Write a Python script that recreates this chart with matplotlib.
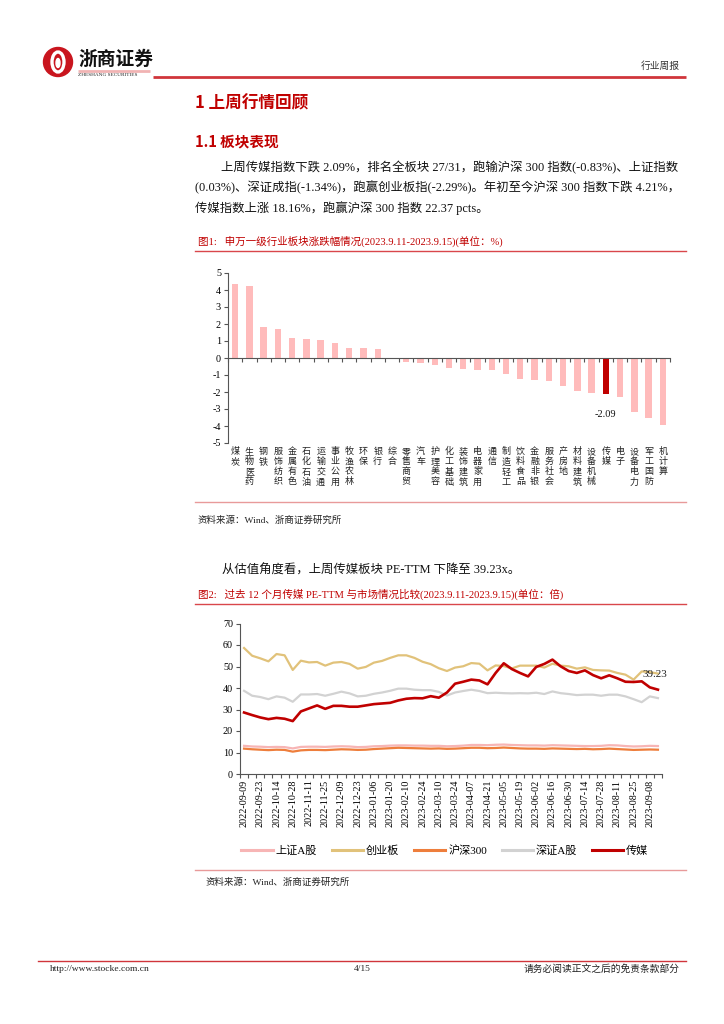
import numpy as np
import matplotlib
matplotlib.use('Agg')
import matplotlib.pyplot as plt
from matplotlib import transforms, patches
from matplotlib.lines import Line2D

SERIF = ['Liberation Serif', 'Noto Sans CJK SC']
CJK = ['Noto Sans CJK SC', 'Liberation Serif']
plt.rcParams['font.family'] = SERIF

# ---------------- data ----------------
industries = ['煤炭', '医药生物', '钢铁', '纺织服饰', '有色金属', '石油石化', '交通运输', '公用事业',
              '农林牧渔', '环保', '银行', '综合', '商贸零售', '汽车', '美容护理', '基础化工',
              '建筑装饰', '家用电器', '通信', '轻工制造', '食品饮料', '非银金融', '社会服务',
              '房地产', '建筑材料', '机械设备', '传媒', '电子', '电力设备', '国防军工', '计算机']
changes = [4.37, 4.25, 1.81, 1.69, 1.17, 1.13, 1.03, 0.91, 0.60, 0.60, 0.52, -0.05, -0.26, -0.28,
           -0.40, -0.56, -0.62, -0.71, -0.71, -0.97, -1.25, -1.29, -1.33, -1.65, -1.92, -2.06,
           -2.09, -2.32, -3.15, -3.53, -3.93]
highlight = '传媒'
bar_yticks = [5, 4, 3, 2, 1, 0, -1, -2, -3, -4, -5]

date_labels = ['2022-09-09', '2022-09-23', '2022-10-14', '2022-10-28', '2022-11-11', '2022-11-25',
               '2022-12-09', '2022-12-23', '2023-01-06', '2023-01-20', '2023-02-10', '2023-02-24',
               '2023-03-10', '2023-03-24', '2023-04-07', '2023-04-21', '2023-05-05', '2023-05-19',
               '2023-06-02', '2023-06-16', '2023-06-30', '2023-07-14', '2023-07-28', '2023-08-11',
               '2023-08-25', '2023-09-08']
shanghai_a = [13.1, 12.8, 12.7, 12.5, 12.6, 12.5, 11.9, 12.6, 12.7, 12.7, 12.6, 12.8, 12.9, 12.8, 12.5,
              12.6, 12.9, 13.0, 13.2, 13.3, 13.3, 13.2, 13.2, 13.1, 13.1, 12.9, 13.0, 13.2, 13.5, 13.5,
              13.4, 13.6, 13.7, 13.5, 13.4, 13.3, 13.3, 13.2, 13.4, 13.3, 13.2, 13.1, 13.0, 13.0, 13.1,
              13.4, 13.3, 13.0, 12.8, 12.9, 13.1, 13.0]
chinext = [58.6, 55.0, 53.8, 52.4, 55.8, 55.2, 48.4, 52.7, 51.9, 52.1, 50.4, 51.8, 52.1, 51.2, 49.0,
           49.8, 51.8, 52.6, 54.0, 55.2, 55.2, 54.0, 52.2, 51.1, 49.2, 47.9, 49.5, 50.1, 51.6, 51.3,
           48.2, 50.5, 50.2, 49.1, 50.4, 50.4, 50.4, 49.5, 51.3, 50.4, 50.1, 49.0, 49.6, 48.4, 48.2,
           48.1, 47.0, 46.2, 43.9, 47.7, 47.4, 46.7]
hs300 = [11.8, 11.5, 11.3, 11.1, 11.3, 11.2, 10.4, 11.0, 11.2, 11.2, 11.1, 11.3, 11.5, 11.4, 11.2,
         11.3, 11.6, 11.8, 12.0, 12.2, 12.1, 12.0, 11.9, 11.8, 11.9, 11.7, 11.8, 12.0, 12.2, 12.2,
         12.0, 12.1, 12.3, 12.1, 11.9, 11.8, 11.8, 11.7, 11.9, 11.8, 11.7, 11.6, 11.7, 11.5, 11.6,
         11.8, 11.6, 11.4, 11.2, 11.3, 11.4, 11.3]
shenzhen_a = [38.7, 36.4, 35.8, 34.8, 36.1, 35.5, 33.6, 37.0, 37.0, 37.2, 36.4, 37.3, 38.3, 37.5, 36.1,
              36.4, 37.3, 37.9, 38.7, 39.7, 39.7, 39.2, 39.0, 39.0, 38.2, 36.5, 37.9, 38.6, 39.2, 38.6,
              37.6, 37.8, 37.6, 37.5, 37.6, 37.5, 37.8, 37.2, 38.4, 37.6, 37.2, 36.7, 36.9, 36.9, 36.4,
              36.9, 36.9, 36.1, 34.8, 33.4, 36.1, 35.3]
media = [28.6, 27.4, 26.3, 25.5, 26.1, 25.7, 24.6, 29.1, 30.5, 31.9, 30.3, 31.7, 31.7, 31.3, 31.3,
         31.9, 32.5, 32.8, 33.1, 34.2, 35.0, 35.3, 35.2, 36.2, 35.5, 37.9, 42.0, 42.9, 43.9, 43.5,
         41.7, 47.0, 51.5, 48.8, 47.0, 45.4, 49.8, 51.2, 53.2, 50.1, 47.9, 47.0, 48.2, 46.0, 44.5,
         45.9, 44.5, 42.9, 42.8, 43.1, 40.3, 39.23]
series_names = ['上证A股', '创业板', '沪深300', '深证A股', '传媒']
line_yticks = [0, 10, 20, 30, 40, 50, 60, 70]

# ---------------- styles ----------------
RED = '#C00000'
LINE_RED = '#D9474B'
PINK_LINE = '#E89A9A'
series_colors = ['#F7B5B5', '#E1C27A', '#EE7E3C', '#D2D2D2', '#C00000']
series_widths = [1.6, 1.6, 1.6, 1.6, 1.9]

fig = plt.figure(figsize=(7.24, 10.24), dpi=100)
bg = fig.add_axes([0, 0, 1, 1], zorder=0)
bg.set_xlim(0, 724)
bg.set_ylim(1024, 0)
bg.axis('off')

# ---------------- header ----------------
bg.add_patch(patches.Circle((58, 62), 14.5, color='#C9151E'))
bg.add_patch(patches.Ellipse((58, 62), 12, 20, fill=False, ec='white', lw=2.4))
bg.add_patch(patches.Ellipse((58, 63), 4, 9, color='white'))
bg.text(78, 59, '浙商证券', family=CJK, fontsize=13.5, fontweight='bold', color='#111111',
        ha='left', va='center')
bg.plot([78, 150], [70.5, 70.5], color='#F1B3B3', lw=2, solid_capstyle='butt')
bg.text(78, 74.5, 'ZHESHANG SECURITIES', fontsize=3.8, color='#222222', ha='left', va='center')
bg.plot([153, 686], [77, 77], color='#D0353B', lw=2, solid_capstyle='butt')
bg.text(680, 66, '行业周报', family=CJK, fontsize=7, color='#333333', ha='right', va='center')

# ---------------- section titles and text ----------------
bg.text(195, 103, '1 上周行情回顾', family=CJK, fontsize=12, fontweight='bold', color=RED,
        ha='left', va='center')
bg.text(195, 141, '1.1 板块表现', family=CJK, fontsize=10.5, fontweight='bold', color=RED,
        ha='left', va='center')
para = ['上周传媒指数下跌 2.09%，排名全板块 27/31，跑输沪深 300 指数(-0.83%)、上证指数',
        '(0.03%)、深证成指(-1.34%)，跑赢创业板指(-2.29%)。年初至今沪深 300 指数下跌 4.21%，',
        '传媒指数上涨 18.16%，跑赢沪深 300 指数 22.37 pcts。']
para_x = [221, 195, 195]
para_y = [168, 188, 208]
for t, x, y in zip(para, para_x, para_y):
    bg.text(x, y, t, fontsize=8.9, color='#111111', ha='left', va='center')

bg.text(198, 241, '图1:   申万一级行业板块涨跌幅情况(2023.9.11-2023.9.15)(单位：%)', fontsize=7.6,
        color=RED, ha='left', va='center')
bg.plot([195, 686], [251, 251], color=LINE_RED, lw=1.0)
bg.plot([195, 686], [502, 502], color=PINK_LINE, lw=1.0)
bg.text(198, 520, '资料来源：Wind、浙商证券研究所', fontsize=6.8, color='#222222', ha='left', va='center')

bg.text(222, 571, '从估值角度看，上周传媒板块 PE-TTM 下降至 39.23x。', fontsize=8.9, color='#111111',
        ha='left', va='center')
bg.text(198, 594, '图2:   过去 12 个月传媒 PE-TTM 与市场情况比较(2023.9.11-2023.9.15)(单位：倍)',
        fontsize=7.6, color=RED, ha='left', va='center')
bg.plot([195, 686], [604, 604], color=LINE_RED, lw=1.0)
bg.plot([195, 686], [870, 870], color=PINK_LINE, lw=1.0)
bg.text(205, 882, '资料来源：Wind、浙商证券研究所', fontsize=6.8, color='#222222', ha='left', va='center')

# ---------------- footer ----------------
bg.plot([38, 686], [961, 961], color='#D0353B', lw=1.0)
bg.text(50, 969, 'http://www.stocke.com.cn', fontsize=6.8, color='#222222', ha='left', va='center')
bg.text(362, 969, '4/15', fontsize=6.8, color='#222222', ha='center', va='center')
bg.text(680, 969, '请务必阅读正文之后的免责条款部分', fontsize=7, color='#222222', ha='right', va='center')

# ---------------- figure 1: bar chart ----------------
ax1 = fig.add_axes([228 / 724, 1 - 443 / 1024, (670 - 228) / 724, 170 / 1024], zorder=1)
ax1.patch.set_alpha(0)
xs = np.arange(len(industries))
bar_colors = [RED if c == highlight else '#FFBBBB' for c in industries]
ax1.bar(xs, changes, width=0.45, color=bar_colors, zorder=2)
ax1.set_xlim(-0.5, len(industries) - 0.5)
ax1.set_ylim(-5, 5)
ax1.set_yticks(bar_yticks)
ax1.set_yticklabels([str(v) for v in bar_yticks], fontsize=7.3)
for s in ['top', 'right']:
    ax1.spines[s].set_visible(False)
ax1.spines['bottom'].set_position(('data', 0))
ax1.spines['bottom'].set_color('#555555')
ax1.spines['left'].set_color('#555555')
ax1.spines['bottom'].set_linewidth(0.8)
ax1.spines['left'].set_linewidth(0.8)
ax1.set_xticks(np.arange(-0.5, len(industries), 1.0))
ax1.tick_params(axis='x', length=3, direction='out', labelbottom=False, color='#555555', width=0.8)
ax1.tick_params(axis='y', length=3, direction='out', color='#555555', width=0.8, pad=2)

hi = industries.index(highlight)
ax1.annotate(f'{changes[hi]:.2f}', (hi, changes[hi]), xytext=(0, -12), textcoords='offset points',
             ha='center', va='top', fontsize=7.5, color='#111111')


def stacked(lbl):
    if len(lbl) <= 2:
        return '\n'.join(lbl)
    return '\n'.join(lbl[2:]) + '\n' + '\n'.join(lbl[:2])


trans = transforms.blended_transform_factory(ax1.transData, ax1.transAxes)
for i, lbl in enumerate(industries):
    ax1.text(i, -0.025, stacked(lbl), transform=trans, family=CJK, fontsize=6.5, linespacing=1.15,
             ha='center', va='top', color='#222222')

# ---------------- figure 2: line chart ----------------
ax2 = fig.add_axes([240 / 724, 1 - 774 / 1024, (662 - 240) / 724, 150.5 / 1024], zorder=1)
ax2.patch.set_alpha(0)
all_series = [shanghai_a, chinext, hs300, shenzhen_a, media]
px = np.arange(len(media))
for vals, col, lw in zip(all_series, series_colors, series_widths):
    ax2.plot(px, vals, color=col, lw=lw, solid_joinstyle='round')
ax2.set_xlim(-0.5, len(media) - 0.5)
ax2.set_ylim(0, 70)
ax2.set_yticks(line_yticks)
ax2.set_yticklabels([str(v) for v in line_yticks], fontsize=7.3)
ax2.set_xticks(np.arange(0, 2 * len(date_labels), 2))
ax2.set_xticklabels(date_labels, rotation=90, fontsize=7.3)
ax2.set_xticks(np.arange(-0.5, len(media), 1.0), minor=True)
ax2.tick_params(axis='x', which='major', length=0, pad=4)
ax2.tick_params(axis='x', which='minor', length=3, direction='out', color='#555555', width=0.8)
ax2.tick_params(axis='y', length=3, direction='out', color='#555555', width=0.8, pad=2)
for s in ['top', 'right']:
    ax2.spines[s].set_visible(False)
for s in ['left', 'bottom']:
    ax2.spines[s].set_color('#555555')
    ax2.spines[s].set_linewidth(0.8)
ax2.annotate(f'{media[-1]:.2f}', (len(media) - 1, media[-1]), xytext=(-2, 8), textcoords='offset points',
             ha='center', va='bottom', fontsize=8, color='#222222')

handles = [Line2D([0], [0], color=c, lw=2.2) for c in series_colors]
fig.legend(handles, series_names, loc='center', bbox_to_anchor=(445 / 724, 1 - 851 / 1024), ncol=5,
           frameon=False, handlelength=2.8, handletextpad=0.3, columnspacing=1.3,
           prop={'family': SERIF, 'size': 8})

fig.savefig('out.png', dpi=100)
